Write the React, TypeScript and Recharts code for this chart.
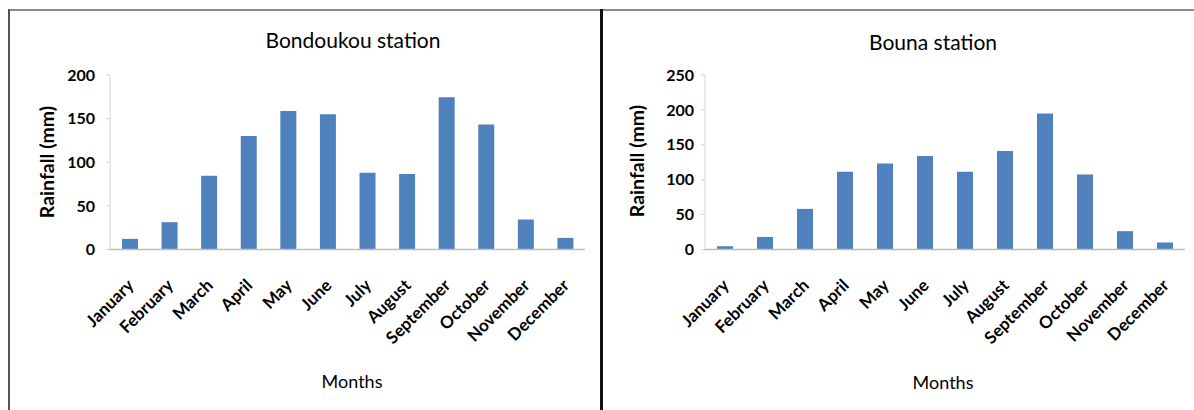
import React from 'react';
import { BarChart, Bar, XAxis, YAxis } from 'recharts';

const months = ['January', 'February', 'March', 'April', 'May', 'June', 'July', 'August', 'September', 'October', 'November', 'December'];
const bondoukouRain = [12.2, 31.3, 84.4, 130, 158.7, 154.9, 87.9, 86.4, 174.4, 143.4, 34.4, 13.3];
const bounaRain = [4.7, 18, 58.2, 111.3, 123.3, 133.8, 111.3, 141, 195, 107.6, 26.3, 10];
const bondoukouTicks = [0, 50, 100, 150, 200];
const bounaTicks = [0, 50, 100, 150, 200, 250];

const FONT = 'Lato, "Open Sans", sans-serif';
const BAR_COLOR = '#4f81bd';

const MonthTick = (props: any) => {
  const { x, y, payload } = props;
  const ax = x + 5;
  const ay = y + 37;
  return (
    <text
      x={ax}
      y={ay}
      transform={`rotate(-45, ${ax}, ${ay})`}
      textAnchor="end"
      fontFamily={FONT}
      fontWeight="bold"
      fontSize={17}
      fill="#000"
    >
      {payload.value}
    </text>
  );
};

type PanelProps = {
  values: number[];
  ticks: number[];
  left: number;
  width: number;
  marginLeft: number;
  marginRight: number;
  tickMargin: number;
};

const Panel = ({ values, ticks, left, width, marginLeft, marginRight, tickMargin }: PanelProps) => {
  const data = months.map((m, i) => ({ month: m, rain: values[i] }));
  return (
    <div style={{ position: 'absolute', left, top: 0 }}>
      <BarChart
        width={width}
        height={410}
        data={data}
        margin={{ top: 75, right: marginRight, bottom: 60.5, left: marginLeft }}
      >
        <XAxis
          dataKey="month"
          interval={0}
          height={100}
          tickLine={false}
          tickSize={0}
          tickMargin={0}
          axisLine={{ stroke: '#bfbfbf', strokeWidth: 1.5 }}
          tick={<MonthTick />}
        />
        <YAxis
          width={60}
          domain={[0, ticks[ticks.length - 1]]}
          ticks={ticks}
          interval={0}
          tickSize={4}
          tickMargin={tickMargin}
          axisLine={{ stroke: '#d4d4d4' }}
          tickLine={{ stroke: '#d4d4d4' }}
          tick={{ fontFamily: FONT, fontWeight: 'bold', fontSize: 16, fill: '#000' }}
        />
        <Bar dataKey="rain" fill={BAR_COLOR} barSize={16} isAnimationActive={false} />
      </BarChart>
    </div>
  );
};

const textStyle = (cx: number, cy: number, size: number, weight: string, rotate = 0): React.CSSProperties => ({
  position: 'absolute',
  left: cx,
  top: cy,
  transform: `translate(-50%, -50%) rotate(${rotate}deg)`,
  fontFamily: FONT,
  fontSize: size,
  fontWeight: weight as any,
  color: '#000',
  whiteSpace: 'nowrap',
  lineHeight: 1,
});

export default function App() {
  return (
    <div style={{ position: 'absolute', left: 0, top: 0, width: 1194, height: 410, background: '#fff', overflow: 'hidden' }}>
      <Panel values={bondoukouRain} ticks={bondoukouTicks} left={0} width={600} marginLeft={50} marginRight={15} tickMargin={11} />
      <Panel values={bounaRain} ticks={bounaTicks} left={600} width={594} marginLeft={45} marginRight={9} tickMargin={7} />

      <div style={textStyle(353, 39, 21, 'normal')}>Bondoukou station</div>
      <div style={textStyle(933, 41, 21, 'normal')}>Bouna station</div>
      <div style={textStyle(47, 162, 19.5, 'bold', -90)}>Rainfall (mm)</div>
      <div style={textStyle(637, 161, 19.5, 'bold', -90)}>Rainfall (mm)</div>
      <div style={textStyle(352, 381, 18, 'normal')}>Months</div>
      <div style={textStyle(943, 382, 18, 'normal')}>Months</div>

      <div style={{ position: 'absolute', left: 8, top: 9, width: 1186, height: 2, background: '#8a8a8a' }} />
      <div style={{ position: 'absolute', left: 8, top: 9, width: 2, height: 401, background: '#555' }} />
      <div style={{ position: 'absolute', left: 600, top: 9, width: 3, height: 401, background: '#111' }} />
    </div>
  );
}
